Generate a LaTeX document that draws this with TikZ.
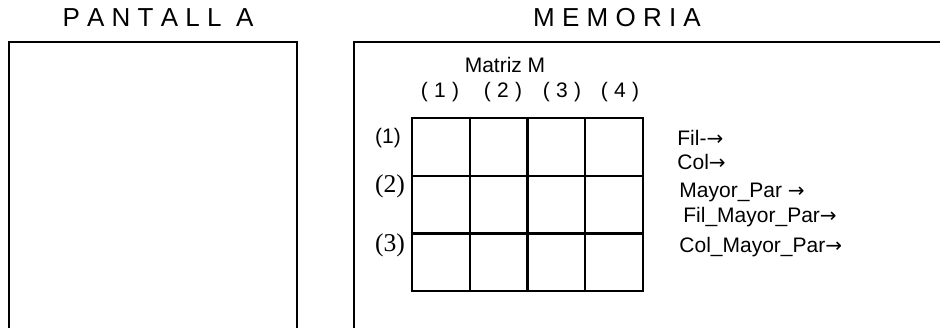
\documentclass[tikz,border=0pt]{standalone}
\usepackage{fontspec}
\setmainfont{Liberation Sans}
\newfontfamily\timesfont{Liberation Serif}
\newfontfamily\arrowfont{DejaVu Sans}
\newcommand\flecha{{\arrowfont\fontsize{10}{12}\selectfont →}}
\usetikzlibrary{positioning}

\begin{document}
\begin{tikzpicture}[
  x=0.5pt, y=-0.5pt,
  panel/.style={draw, line width=1pt},
  cell/.style={draw, line width=1pt, minimum width=28.9pt, minimum height=28.9pt, inner sep=0pt},
  title/.style={font=\fontsize{13}{15}\selectfont, inner sep=0pt},
  lbl/.style={font=\fontsize{10.5}{12}\selectfont, inner sep=0pt},
  rowlbl/.style={font=\timesfont\fontsize{12.8}{14}\selectfont, inner sep=0pt},
  var/.style={lbl, anchor=west}
]
\clip (0,0) rectangle (940,327);
% pantalla y memoria
\draw[panel] (9,42) rectangle (297,400);
\draw[panel] (354,42) rectangle (1000,400);
\node[title] (pantalla) at (158,18) {P A N T A L L \ A};
\node[title] (memoria) at (617,18) {M E M O R I A};

% matriz M
\foreach \r in {1,2,3}
  \foreach \c in {1,...,4}
    \node[cell] (m-\r-\c) at ({412+57.75*(\c-0.5)},{118+57.75*(\r-0.5)}) {};

\node[lbl] (titmat) at (505,65) {Matriz M};
\foreach \c/\x in {1/440,2/503,3/562,4/620}
  \node[lbl] (col-\c) at (\x,92) {(\hspace{0.3em}\c\hspace{0.3em})};

\node[lbl] (fila-1) at (388,138) {(1)};
\node[rowlbl] (fila-2) at (390,186) {(2)};
\node[rowlbl] (fila-3) at (390,245) {(3)};

% variables
\node[var] (fil) at (677,138) {Fil-\flecha};
\node[var] (col) at (677,162) {Col\flecha};
\node[var] (mayor) at (679,192) {Mayor\_Par \flecha};
\node[var] (filmayor) at (683,217) {Fil\_Mayor\_Par\flecha};
\node[var] (colmayor) at (679,247) {Col\_Mayor\_Par\flecha};
\end{tikzpicture}
\end{document}
